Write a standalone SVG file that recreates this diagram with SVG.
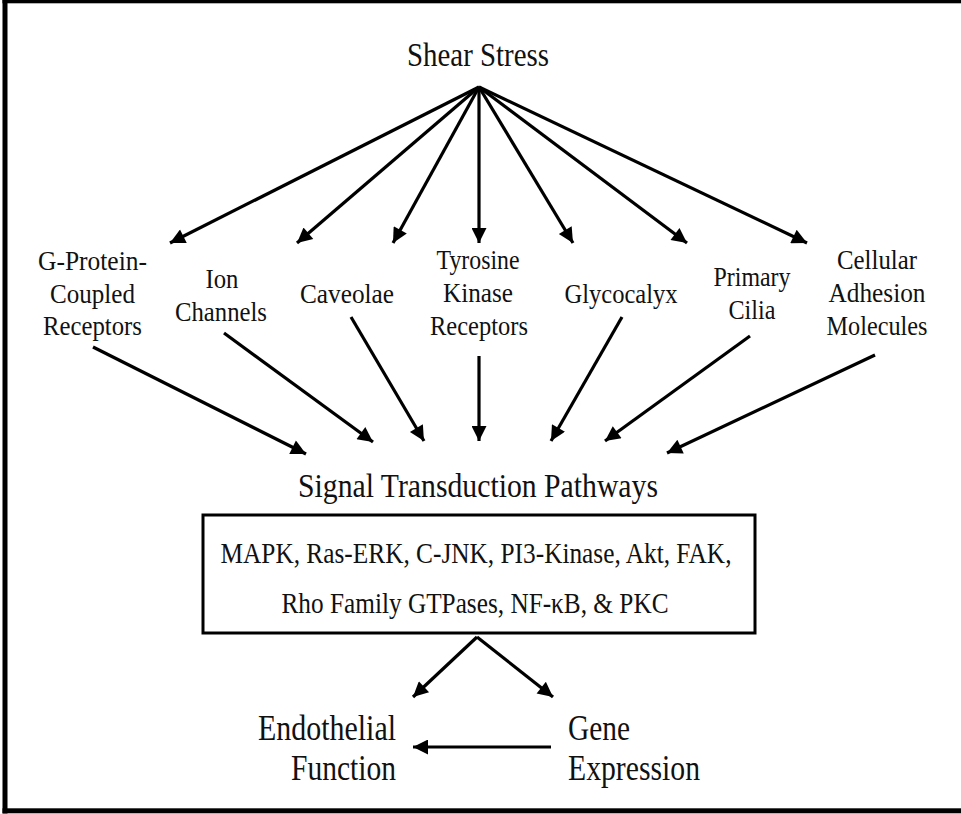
<svg xmlns="http://www.w3.org/2000/svg" width="961" height="814" viewBox="0 0 961 814">
<style>
text{font-family:"Liberation Serif","Times New Roman",serif;fill:#111;}
.t{font-size:33px;text-anchor:middle;}
.n{font-size:28px;text-anchor:middle;}
.b{font-size:29px;text-anchor:middle;}
.o{font-size:35px;}
.c{stroke:#000;stroke-width:3.2;fill:none;marker-end:url(#ah);}
</style>
<defs>
<marker id="ah" viewBox="0 0 10 10" refX="10" refY="5" markerWidth="18" markerHeight="15" markerUnits="userSpaceOnUse" orient="auto">
<path d="M0,0 L10,5 L0,10 z" fill="#000"/>
</marker>
</defs>
<rect width="961" height="814" fill="#fff"/>
<g id="frame" fill="#000">
<rect x="2.5" y="0" width="959" height="3.3"/>
<rect x="2.5" y="0" width="5" height="813.5"/>
<rect x="2.5" y="808.3" width="959" height="5"/>
</g>
<g id="connectors">
<line class="c" x1="479" y1="87" x2="170" y2="243"/>
<line class="c" x1="479" y1="87" x2="297" y2="243"/>
<line class="c" x1="479" y1="87" x2="393" y2="243"/>
<line class="c" x1="479" y1="87" x2="479" y2="243"/>
<line class="c" x1="479" y1="87" x2="573" y2="243"/>
<line class="c" x1="479" y1="87" x2="687" y2="243"/>
<line class="c" x1="479" y1="87" x2="807" y2="243"/>
<line class="c" x1="93" y1="347" x2="306" y2="454"/>
<line class="c" x1="224" y1="333" x2="373" y2="442"/>
<line class="c" x1="351" y1="317" x2="424" y2="441"/>
<line class="c" x1="479" y1="356" x2="479" y2="441"/>
<line class="c" x1="622" y1="317" x2="551" y2="441"/>
<line class="c" x1="750" y1="336" x2="605" y2="441"/>
<line class="c" x1="875" y1="355" x2="667" y2="453"/>
<line class="c" x1="477" y1="637" x2="413" y2="697"/>
<line class="c" x1="477" y1="637" x2="553" y2="697"/>
<line class="c" x1="551" y1="747" x2="413" y2="747"/>
</g>
<g id="shear"><text class="t" x="478" y="66" textLength="142" lengthAdjust="spacingAndGlyphs">Shear Stress</text></g>
<g id="gpcr">
<text class="n" x="92.5" y="270" textLength="109" lengthAdjust="spacingAndGlyphs">G-Protein-</text>
<text class="n" x="92.5" y="303" textLength="85" lengthAdjust="spacingAndGlyphs">Coupled</text>
<text class="n" x="92.5" y="335" textLength="99" lengthAdjust="spacingAndGlyphs">Receptors</text>
</g>
<g id="ion">
<text class="n" x="222" y="288" textLength="33" lengthAdjust="spacingAndGlyphs">Ion</text>
<text class="n" x="221" y="321" textLength="92" lengthAdjust="spacingAndGlyphs">Channels</text>
</g>
<g id="caveolae"><text class="n" x="347" y="303" textLength="94" lengthAdjust="spacingAndGlyphs">Caveolae</text></g>
<g id="tkr">
<text class="n" x="478" y="269" textLength="83" lengthAdjust="spacingAndGlyphs">Tyrosine</text>
<text class="n" x="478" y="302" textLength="70" lengthAdjust="spacingAndGlyphs">Kinase</text>
<text class="n" x="479" y="335" textLength="98" lengthAdjust="spacingAndGlyphs">Receptors</text>
</g>
<g id="glycocalyx"><text class="n" x="621" y="303" textLength="113" lengthAdjust="spacingAndGlyphs">Glycocalyx</text></g>
<g id="cilia">
<text class="n" x="752" y="286" textLength="77" lengthAdjust="spacingAndGlyphs">Primary</text>
<text class="n" x="752" y="319" textLength="47" lengthAdjust="spacingAndGlyphs">Cilia</text>
</g>
<g id="cam">
<text class="n" x="877" y="269" textLength="80" lengthAdjust="spacingAndGlyphs">Cellular</text>
<text class="n" x="877" y="302" textLength="97" lengthAdjust="spacingAndGlyphs">Adhesion</text>
<text class="n" x="877" y="335" textLength="101" lengthAdjust="spacingAndGlyphs">Molecules</text>
</g>
<g id="signal">
<text class="t" x="478" y="497" textLength="360" lengthAdjust="spacingAndGlyphs">Signal Transduction Pathways</text>
<rect x="203" y="515" width="552" height="118" fill="none" stroke="#000" stroke-width="3"/>
<text class="b" x="476" y="563" textLength="511" lengthAdjust="spacingAndGlyphs">MAPK, Ras-ERK, C-JNK, PI3-Kinase, Akt, FAK,</text>
<text class="b" x="475" y="613" textLength="387" lengthAdjust="spacingAndGlyphs">Rho Family GTPases, NF-κB, &amp; PKC</text>
</g>
<g id="endothelial">
<text class="o" x="396" y="740" text-anchor="end" textLength="138" lengthAdjust="spacingAndGlyphs">Endothelial</text>
<text class="o" x="396" y="780" text-anchor="end" textLength="105" lengthAdjust="spacingAndGlyphs">Function</text>
</g>
<g id="gene">
<text class="o" x="568" y="740" textLength="62" lengthAdjust="spacingAndGlyphs">Gene</text>
<text class="o" x="568" y="780" textLength="132" lengthAdjust="spacingAndGlyphs">Expression</text>
</g>
</svg>
